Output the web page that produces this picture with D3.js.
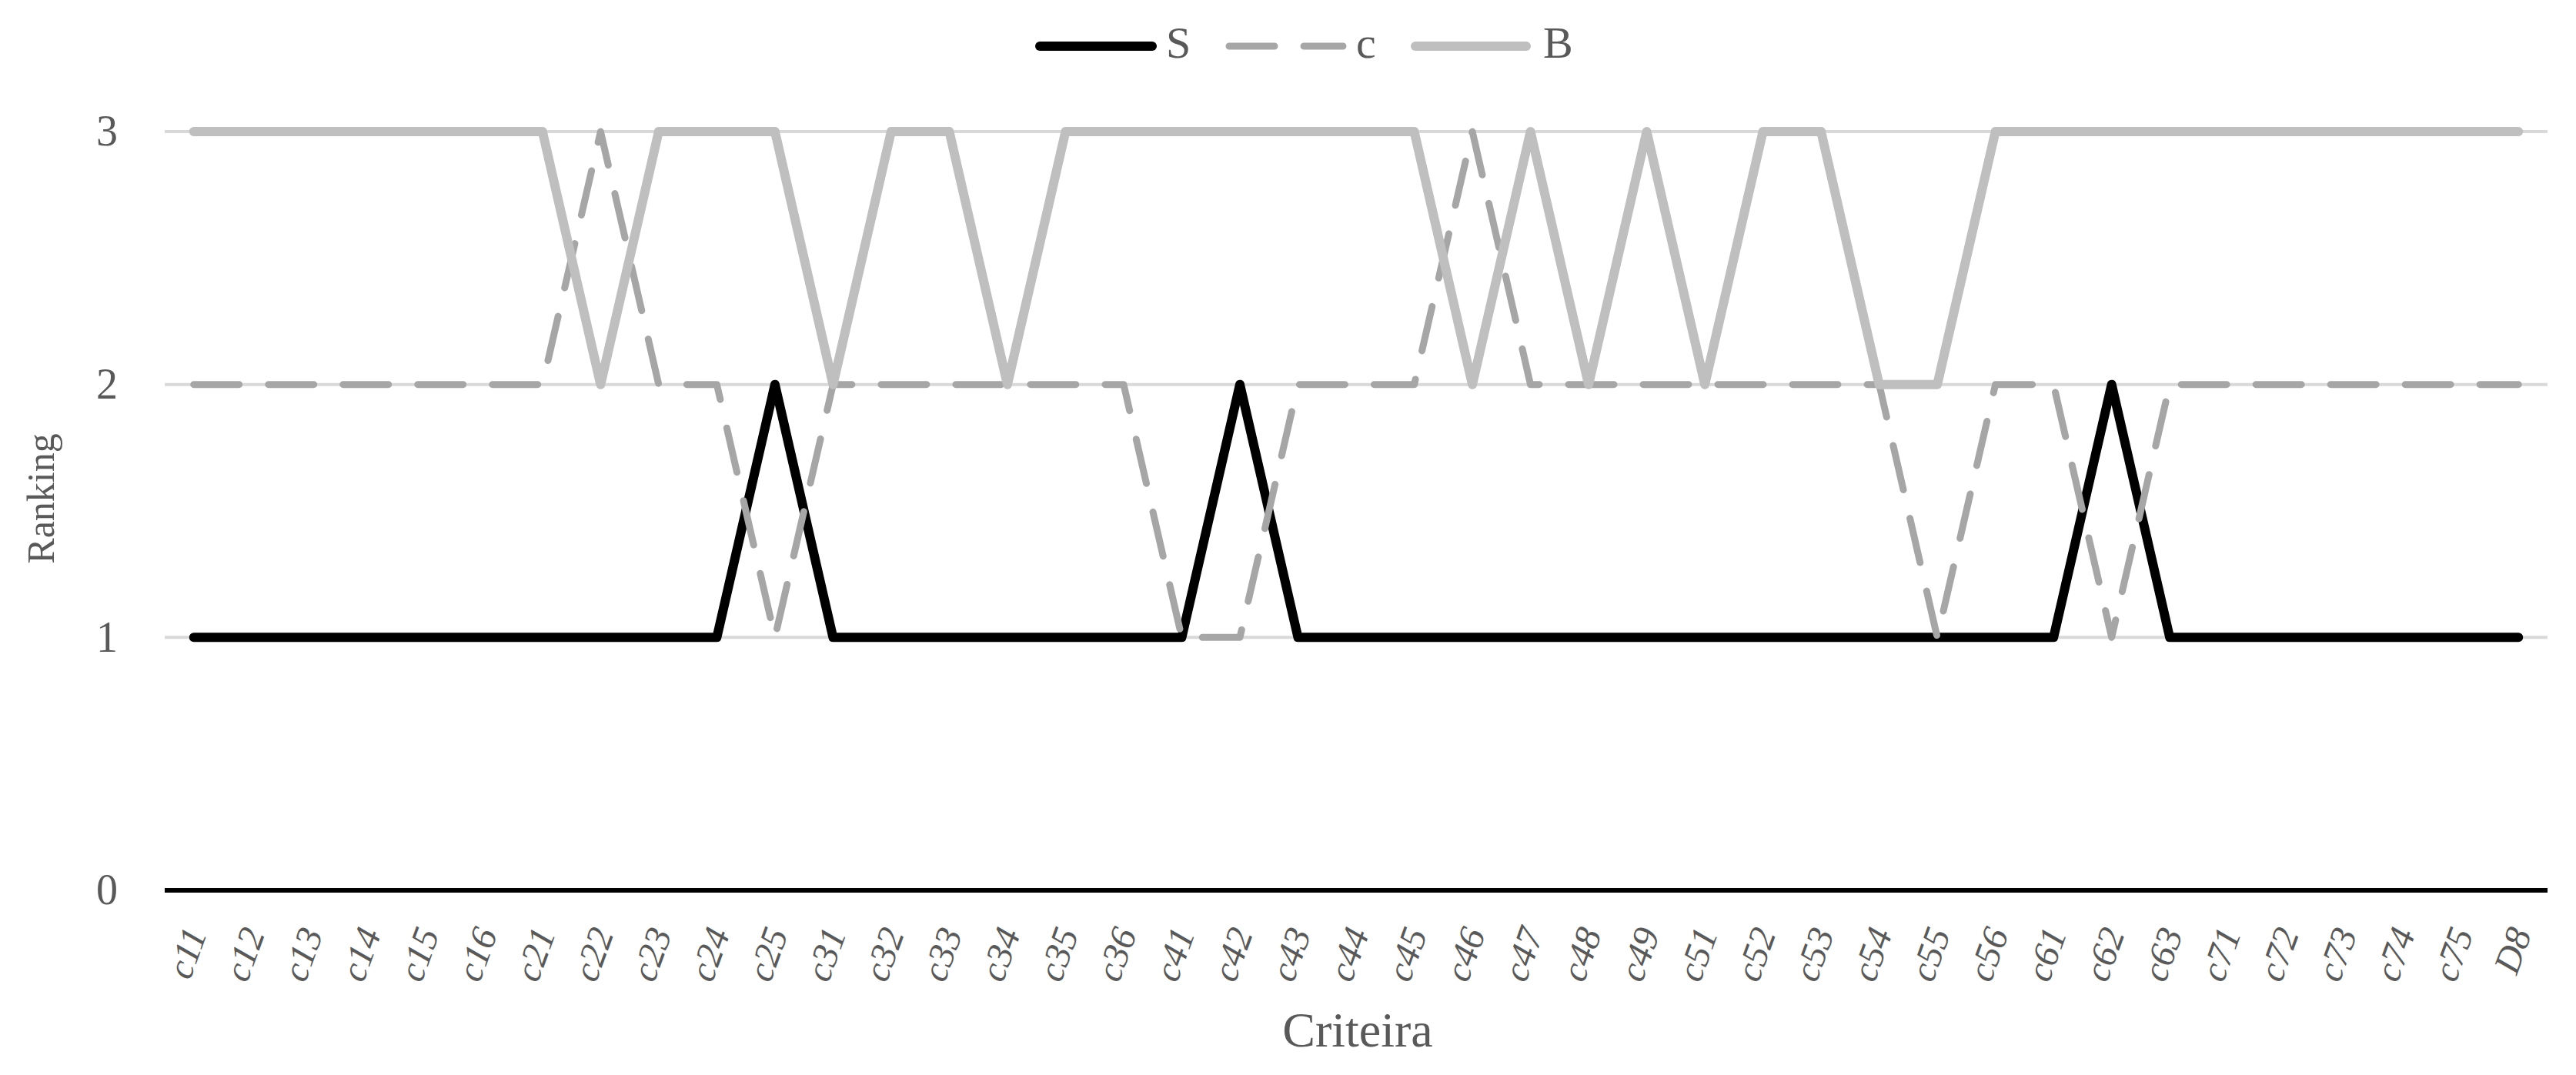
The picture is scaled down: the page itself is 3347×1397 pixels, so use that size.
<!DOCTYPE html>
<html>
<head>
<meta charset="utf-8">
<script src="https://cdn.jsdelivr.net/npm/d3@7"></script>
<style>
  html, body { margin: 0; padding: 0; background: #fff; }
  svg { display: block; }
</style>
</head>
<body>
<svg id="chart" width="3347" height="1397"></svg>
<script>
const categories = ["c11","c12","c13","c14","c15","c16","c21","c22","c23","c24","c25",
  "c31","c32","c33","c34","c35","c36","c41","c42","c43","c44","c45","c46","c47","c48","c49",
  "c51","c52","c53","c54","c55","c56","c61","c62","c63","c71","c72","c73","c74","c75","D8"];
const seriesS = [1,1,1,1,1,1,1,1,1,1,2, 1,1,1,1,1,1,1,2,1,1,1,1,1,1,1, 1,1,1,1,1,1,1,2,1,1,1,1,1,1,1];
const seriesC = [2,2,2,2,2,2,2,3,2,2,1, 2,2,2,2,2,2,1,1,2,2,2,3,2,2,2, 2,2,2,2,1,2,2,1,2,2,2,2,2,2,2];
const seriesB = [3,3,3,3,3,3,3,2,3,3,3, 2,3,3,2,3,3,3,3,3,3,3,2,3,2,3, 2,3,3,2,2,3,3,3,3,3,3,3,3,3,3];
const yTicks = [0,1,2,3];
const seriesNames = ["S","c","B"];

const svg = d3.select("#chart");
const font = "'Liberation Serif', 'Times New Roman', serif";
const textColor = "#595959";

const x = d3.scalePoint().domain(categories).range([214, 3310]).padding(0.5);
const y = d3.scaleLinear().domain([0, 3]).range([1157, 171]);

// gridlines
svg.append("g").selectAll("line").data(yTicks.filter(t => t > 0)).join("line")
  .attr("x1", 214).attr("x2", 3310)
  .attr("y1", d => y(d)).attr("y2", d => y(d))
  .attr("stroke", "#d9d9d9").attr("stroke-width", 4);

// y axis labels
const yAxis = d3.axisLeft(y).tickValues(yTicks).tickSize(0).tickPadding(0).tickFormat(d3.format("d"));
const gy = svg.append("g").attr("transform", "translate(153,0)").call(yAxis);
gy.select(".domain").remove();
gy.selectAll("text").attr("font-family", font).attr("font-size", 56).attr("fill", textColor);

// x axis
const xAxis = d3.axisBottom(x).tickSize(0).tickPadding(0);
const gx = svg.append("g").attr("transform", `translate(0,${y(0)})`).call(xAxis);
gx.select(".domain").attr("stroke", "#000").attr("stroke-width", 6).attr("d", "M214,0H3310");
gx.selectAll(".tick text")
  .attr("font-family", font).attr("font-size", 48).attr("font-style", "italic")
  .attr("fill", textColor)
  .attr("text-anchor", "end")
  .attr("dy", null).attr("y", 0)
  .attr("transform", "translate(17,56) rotate(-70)");

// lines
const line = d3.line().x((d, i) => x(categories[i])).y(d => y(d));
const styles = {
  S: { color: "#000000", width: 12, dash: null },
  c: { color: "#a6a6a6", width: 9, dash: "59,38" },
  B: { color: "#bfbfbf", width: 12, dash: null }
};
const data = { S: seriesS, c: seriesC, B: seriesB };
seriesNames.forEach(name => {
  const st = styles[name];
  svg.append("path").datum(data[name])
    .attr("d", line)
    .attr("fill", "none")
    .attr("stroke", st.color)
    .attr("stroke-width", st.width)
    .attr("stroke-linecap", "round")
    .attr("stroke-linejoin", "round")
    .attr("stroke-dasharray", st.dash);
});

// legend
const legendItems = [
  { name: "S", x1: 1351, x2: 1497, tx: 1515 },
  { name: "c", x1: 1597, x2: 1745, tx: 1762 },
  { name: "B", x1: 1839, x2: 1983, tx: 2005 }
];
const lg = svg.append("g");
legendItems.forEach(it => {
  const st = styles[it.name];
  lg.append("line").attr("x1", it.x1).attr("x2", it.x2).attr("y1", 60).attr("y2", 60)
    .attr("stroke", st.color).attr("stroke-width", st.width)
    .attr("stroke-linecap", "round")
    .attr("stroke-dasharray", st.dash);
  lg.append("text").attr("x", it.tx).attr("y", 75).text(it.name)
    .attr("font-family", font).attr("font-size", 58).attr("fill", textColor);
});

// axis titles
svg.append("text").attr("x", 1764).attr("y", 1360).attr("text-anchor", "middle")
  .text("Criteira").attr("font-family", font).attr("font-size", 64).attr("fill", textColor);
svg.append("text").attr("transform", "translate(70,648) rotate(-90)").attr("text-anchor", "middle")
  .text("Ranking").attr("font-family", font).attr("font-size", 50).attr("fill", textColor);
</script>
</body>
</html>
